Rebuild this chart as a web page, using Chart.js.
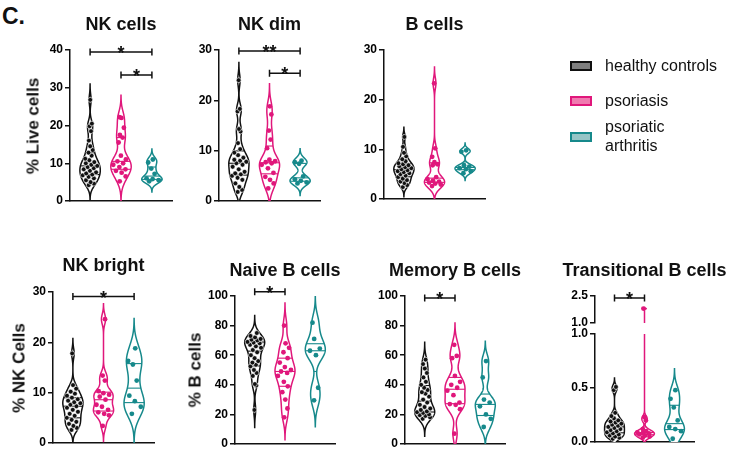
<!DOCTYPE html>
<html>
<head>
<meta charset="utf-8">
<script src="https://cdn.jsdelivr.net/npm/chart.js@4.4.1/dist/chart.umd.min.js"></script>
<style>
body{margin:0;background:#fff;width:730px;height:451px;position:relative;overflow:hidden;font-family:"Liberation Sans",Arial,sans-serif;color:#111}
canvas{position:absolute}
.t{position:absolute;font-weight:bold;font-size:18px;line-height:1;white-space:nowrap;transform:translate(-50%,-50%)}
.yl{position:absolute;font-weight:bold;font-size:17px;line-height:1;white-space:nowrap;transform:translate(-50%,-50%) rotate(-90deg)}
.lg{position:absolute;font-size:16px;line-height:19px;white-space:nowrap}
.sw{position:absolute;width:18px;height:6px;border:2px solid}
</style>
</head>
<body>
<div class="t" style="left:2px;top:5px;transform:none;font-size:23px">C.</div>
<script>
const groupNames = ["healthy controls", "psoriasis", "psoriatic arthritis"];
const groupColors = ["#111111", "#e0177b", "#16898b"];
const swatchFills = ["#7f7f7f", "#f07ab0", "#96c5c6"];

// NK cells (% live cells)
const nkCellsHC = [26.8, 20.5, 19.8, 18.5, 16, 14.5, 13.5, 12.8, 12, 11.2, 10.8, 10.3, 10, 9.6, 9.3, 9, 8.7, 8.4, 8, 7.6, 7.3, 7, 6.8, 6.4, 6, 5.5, 5, 4.6, 4.2];
const nkCellsPso = [22.2, 22, 19.4, 17.5, 16.8, 15.5, 12, 11, 10.5, 10, 9.6, 9, 8.4, 8, 7.5, 6.5, 5.2];
const nkCellsPsA = [11, 10.2, 8.6, 7.2, 6, 5.8, 5.5, 5.2];
const nkCellsTicks = [0, 10, 20, 30, 40];
const nkCellsSig = [[0, 2, 39.5, "*"], [1, 2, 33.4, "*"]];

// NK dim
const nkDimHC = [24, 18.3, 17.8, 14.3, 13.8, 11.5, 10.3, 9.6, 9.1, 8.6, 8.2, 8, 7.8, 7.5, 7.2, 6.8, 6.3, 5.8, 5.5, 5.3, 5, 4.6, 4.2, 3.5, 2.8, 2.2, 1.8];
const nkDimPso = [18.8, 17.2, 14, 12.2, 10.5, 8.2, 7.9, 7.7, 7.5, 7.2, 6.5, 5.6, 4.8, 4.2, 3.5, 2.5];
const nkDimPsA = [8, 7.7, 7.4, 4.9, 4.3, 4, 3.7, 3.5];
const nkDimTicks = [0, 10, 20, 30];
const nkDimSig = [[0, 2, 29.8, "**"], [1, 2, 25.4, "*"]];

// B cells
const bCellsHC = [12.5, 10.5, 9.3, 8.6, 8, 7.6, 7.2, 7, 6.8, 6.6, 6.4, 6.2, 6, 5.8, 5.6, 5.4, 5.2, 5, 4.7, 4.4, 4.1, 3.8, 3.5, 3.2, 2.8, 2.4];
const bCellsPso = [23.3, 10.2, 8.5, 7.4, 7, 6.8, 4.4, 4, 3.7, 3.5, 3.3, 3.1, 2.9, 2.6];
const bCellsPsA = [9.8, 9.5, 6.8, 6.5, 6.2, 6, 5.6, 5.2];
const bCellsTicks = [0, 10, 20, 30];
const bCellsSig = [];

// NK bright (% NK cells)
const nkBrightHC = [17.8, 11.5, 10.8, 10.2, 9.8, 9.4, 9, 8.7, 8.4, 8.1, 7.9, 7.6, 7.3, 7, 6.6, 6.2, 5.8, 5.4, 5, 4.6, 4.2, 3.8, 3.4, 3, 2.6];
const nkBrightPso = [24.6, 13.4, 12.4, 10.3, 9.9, 9.6, 9.2, 8.6, 7.6, 7.2, 6.6, 6.1, 5.8, 5.5, 3.4];
const nkBrightPsA = [18.8, 16.3, 15.6, 12.4, 9.4, 8.3, 7.2, 5.8];
const nkBrightTicks = [0, 10, 20, 30];
const nkBrightSig = [[0, 2, 29.1, "*"]];

// Naive B cells (% B cells)
const naiveHC = [75, 73, 72, 71, 70.5, 70, 69, 68.5, 68, 67, 66, 65, 63.5, 62, 60, 58, 56, 55, 53.5, 52.5, 50, 48, 46, 40.5, 39.5, 23];
const naivePso = [80, 68, 65, 62, 58, 55, 52, 50, 49, 48, 46, 42, 39, 35, 30, 24, 18];
const naivePsA = [82, 71, 64.5, 63, 60, 38, 29.5];
const naiveTicks = [0, 20, 40, 60, 80, 100];
const naiveSig = [[0, 1, 102.9, "*"]];

// Memory B cells
const memoryHC = [57, 54, 51, 48, 45, 42, 40, 38, 36.5, 35, 34, 32, 30, 28, 26.5, 25, 24, 23, 22, 21.5, 21, 20, 19.5, 19, 18, 17];
const memoryPso = [67, 59.5, 58, 46, 42, 40, 38, 36, 33, 28, 27, 26.5, 23.5, 7];
const memoryPsA = [56, 45, 30, 28, 25.5, 20, 17, 11.5];
const memoryTicks = [0, 20, 40, 60, 80, 100];
const memorySig = [[0, 1, 98.6, "*"]];

// Transitional B cells (broken axis)
const transHC = [0.51, 0.48, 0.27, 0.24, 0.22, 0.2, 0.19, 0.18, 0.17, 0.16, 0.15, 0.14, 0.13, 0.12, 0.11, 0.1, 0.09, 0.08, 0.07, 0.06, 0.05, 0.04, 0.03];
const transPso = [1.8, 0.23, 0.2, 0.12, 0.1, 0.09, 0.085, 0.08, 0.07, 0.06, 0.05, 0.04];
const transPsA = [0.48, 0.4, 0.32, 0.2, 0.14, 0.12, 0.1, 0.03];
const transTicksLow = [0, 0.5, 1.0];
const transTicksHigh = [1.0, 2.5];
const transSig = [[0, 1, 2.39, "*"]];

const VW = 0.33; // violin half width in group units

Chart.defaults.font.family = '"Liberation Sans", Arial, sans-serif';

function violinStats(v) {
  const s = [...v].sort((a, b) => a - b), n = s.length;
  const q = p => { const i = (n - 1) * p, lo = Math.floor(i), hi = Math.ceil(i); return s[lo] + (s[hi] - s[lo]) * (i - lo); };
  const mean = s.reduce((a, b) => a + b, 0) / n;
  const sd = Math.sqrt(s.reduce((a, b) => a + (b - mean) ** 2, 0) / (n - 1));
  const iqr = q(0.75) - q(0.25);
  const h = 0.9 * Math.min(sd, iqr / 1.34 || sd) * Math.pow(n, -0.2) * 0.7;
  const dens = y => s.reduce((d, x) => { const z = (y - x) / h; return d + Math.exp(-0.5 * z * z); }, 0);
  const lo = s[0] - 3 * h, hi = s[n - 1] + 3 * h, steps = 400;
  const pts = [];
  let max = 0;
  for (let k = 0; k <= steps; k++) {
    const y = lo + (hi - lo) * k / steps, d = dens(y);
    pts.push([y, d]);
    if (d > max) max = d;
  }
  return { s, q1: q(0.25), med: q(0.5), q3: q(0.75), pts, max, width: y => dens(y) / max * VW };
}

function makeChart(c) {
  const padL = 42, padT = c.padT ?? 45, padR = 8, padB = 10;
  const w = padL + (c.end - c.ax) + padR, h = padT + (c.bot - c.top) + padB;
  const cv = document.createElement('canvas');
  cv.width = w; cv.height = h;
  cv.style.left = (c.ax - padL) + 'px';
  cv.style.top = (c.top - padT) + 'px';
  document.body.appendChild(cv);
  const stats = c.series.map(violinStats);

  const violins = {
    id: 'violins',
    beforeDatasetsDraw(chart) {
      const { ctx, chartArea: a, scales: { x, y } } = chart;
      ctx.save();
      ctx.beginPath();
      ctx.rect(0, a.top, chart.width, a.bottom - a.top);
      ctx.clip();
      stats.forEach((st, g) => {
        ctx.strokeStyle = groupColors[g];
        ctx.lineWidth = 1.5;
        ctx.beginPath();
        st.pts.forEach(([v, d], k) => {
          const px = x.getPixelForValue(g + d / st.max * VW), py = y.getPixelForValue(v);
          k ? ctx.lineTo(px, py) : ctx.moveTo(px, py);
        });
        for (let k = st.pts.length - 1; k >= 0; k--) {
          const [v, d] = st.pts[k];
          ctx.lineTo(x.getPixelForValue(g - d / st.max * VW), y.getPixelForValue(v));
        }
        ctx.closePath();
        ctx.fillStyle = '#fff';
        ctx.fill();
        ctx.stroke();
        ctx.lineWidth = 1.1;
        [st.q1, st.med, st.q3].forEach(qv => {
          const hw = st.width(qv), py = y.getPixelForValue(qv);
          ctx.beginPath();
          ctx.moveTo(x.getPixelForValue(g - hw), py);
          ctx.lineTo(x.getPixelForValue(g + hw), py);
          ctx.stroke();
        });
      });
      ctx.restore();
    }
  };

  const brackets = {
    id: 'brackets',
    afterDraw(chart) {
      const { ctx, scales: { x, y } } = chart;
      ctx.save();
      ctx.strokeStyle = '#111';
      ctx.fillStyle = '#111';
      ctx.lineWidth = 1.5;
      ctx.font = 'bold 18px "Liberation Sans", Arial, sans-serif';
      ctx.textAlign = 'center';
      ctx.textBaseline = 'alphabetic';
      (c.sig || []).forEach(([a, b, v, label]) => {
        const pa = x.getPixelForValue(a), pb = x.getPixelForValue(b), py = y.getPixelForValue(v);
        ctx.beginPath();
        ctx.moveTo(pa, py); ctx.lineTo(pb, py);
        ctx.moveTo(pa, py - 3.5); ctx.lineTo(pa, py + 3.5);
        ctx.moveTo(pb, py - 3.5); ctx.lineTo(pb, py + 3.5);
        ctx.stroke();
        ctx.fillText(label, (pa + pb) / 2, py + 7);
      });
      ctx.restore();
    }
  };

  return new Chart(cv, {
    type: 'scatter',
    data: {
      datasets: stats.map((st, g) => ({
        label: groupNames[g],
        data: st.s.map((v, j) => ({ x: g + (((j * 0.6180339887 + 0.31) % 1) * 2 - 1) * st.width(v) * 0.8, y: v })),
        backgroundColor: groupColors[g],
        borderColor: g === 0 ? '#ffffff' : groupColors[g],
        borderWidth: g === 0 ? 0.6 : 0,
        pointRadius: 2.4,
        pointHoverRadius: 2.4
      }))
    },
    options: {
      responsive: false,
      animation: false,
      events: [],
      layout: { padding: { left: 0, top: padT, right: padR, bottom: padB } },
      plugins: { legend: { display: false }, tooltip: { enabled: false } },
      scales: {
        x: {
          type: 'linear', min: -0.65, max: 2.65,
          display: c.showX !== false,
          afterFit: s => { s.height = 0; },
          ticks: { display: false },
          grid: { display: false },
          border: { display: true, color: '#111', width: 1.5 }
        },
        y: {
          type: 'linear',
          min: c.ticks[0], max: c.ticks[c.ticks.length - 1],
          afterBuildTicks: s => { s.ticks = c.ticks.map(v => ({ value: v })); },
          afterFit: s => { s.width = padL; },
          ticks: {
            color: '#000', padding: 2,
            font: { size: 12, weight: 'bold' },
            callback: v => c.dec ? Number(v).toFixed(1) : v
          },
          grid: { drawOnChartArea: false, drawTicks: true, tickLength: 5, color: '#111', lineWidth: 1.5 },
          border: { display: true, color: '#111', width: 1.5 }
        }
      }
    },
    plugins: [violins, brackets]
  });
}

function addText(cls, text, x, y) {
  const d = document.createElement('div');
  d.className = cls;
  d.textContent = text;
  d.style.left = x + 'px';
  d.style.top = y + 'px';
  document.body.appendChild(d);
}

const panels = [
  { title: "NK cells", ylabel: "% Live cells", lx: 33, ty: 24, series: [nkCellsHC, nkCellsPso, nkCellsPsA], ticks: nkCellsTicks, sig: nkCellsSig, ax: 70, top: 50, bot: 201, end: 172 },
  { title: "NK dim", ty: 24, series: [nkDimHC, nkDimPso, nkDimPsA], ticks: nkDimTicks, sig: nkDimSig, ax: 219, top: 50, bot: 201, end: 320 },
  { title: "B cells", ty: 24, series: [bCellsHC, bCellsPso, bCellsPsA], ticks: bCellsTicks, sig: bCellsSig, ax: 384, top: 50, bot: 199, end: 485 },
  { title: "NK bright", ylabel: "% NK Cells", lx: 19, ty: 265, series: [nkBrightHC, nkBrightPso, nkBrightPsA], ticks: nkBrightTicks, sig: nkBrightSig, ax: 53, top: 292, bot: 443, end: 154 },
  { title: "Naive B cells", ylabel: "% B cells", lx: 195, ty: 270, series: [naiveHC, naivePso, naivePsA], ticks: naiveTicks, sig: naiveSig, ax: 235, top: 296, bot: 444, end: 335 },
  { title: "Memory B cells", ty: 270, series: [memoryHC, memoryPso, memoryPsA], ticks: memoryTicks, sig: memorySig, ax: 405, top: 296, bot: 444, end: 505 },
  { title: "Transitional B cells", ty: 270, series: [transHC, transPso, transPsA], ticks: transTicksLow, dec: true, ax: 595, top: 334, bot: 442, end: 694, padT: 10 },
  { series: [transHC, transPso, transPsA], ticks: transTicksHigh, dec: true, sig: transSig, showX: false, ax: 595, top: 296, bot: 323, end: 694, padT: 40 }
];

panels.forEach(p => {
  makeChart(p);
  if (p.title) addText('t', p.title, (p.ax + p.end) / 2, p.ty);
  if (p.ylabel) addText('yl', p.ylabel, p.lx, (p.top + p.bot) / 2);
});

// legend
const legendRows = [[66, ["healthy controls"]], [101, ["psoriasis"]], [137, ["psoriatic", "arthritis"]]];
legendRows.forEach(([cy, lines], g) => {
  const sw = document.createElement('div');
  sw.className = 'sw';
  sw.style.left = '570px';
  sw.style.top = (cy - 5) + 'px';
  sw.style.background = swatchFills[g];
  sw.style.borderColor = groupColors[g];
  document.body.appendChild(sw);
  const lab = document.createElement('div');
  lab.className = 'lg';
  lab.style.left = '605px';
  lab.style.top = (cy - lines.length * 9.5 - 1) + 'px';
  lab.innerHTML = lines.join('<br>');
  document.body.appendChild(lab);
});
</script>
</body>
</html>
